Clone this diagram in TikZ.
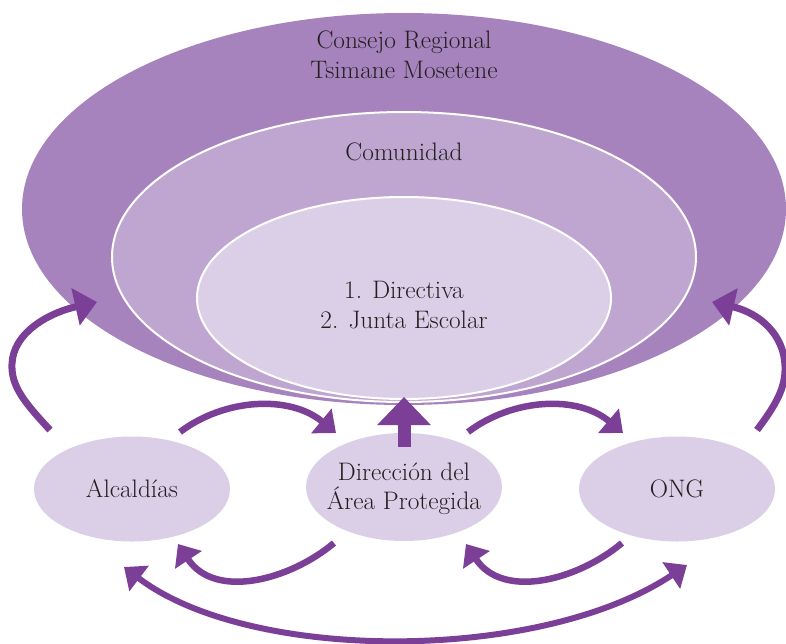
\documentclass[tikz,border=0pt]{standalone}
\usetikzlibrary{arrows.meta,shapes.geometric}
\definecolor{outerc}{HTML}{A783BD}
\definecolor{midc}{HTML}{BEA6D0}
\definecolor{innerc}{HTML}{DBCFE7}
\definecolor{arrowc}{HTML}{7B3F98}
\definecolor{txt}{HTML}{231F20}
\begin{document}
\begin{tikzpicture}[x=1pt,y=-1pt,
  ring/.style={ellipse, inner sep=0pt, outer sep=0pt},
  actor/.style={ellipse, inner sep=0pt, fill=innerc, minimum width=196pt, minimum height=105pt},
  lbl/.style={font=\fontsize{25.3}{29.5}\selectfont, text=txt, align=center, inner sep=0pt},
  flow/.style={draw=arrowc, line width=6.5pt, -{Triangle[width=31pt,length=19pt]}},
  sideflow/.style={draw=arrowc, line width=7pt, -{Triangle[width=37pt,length=22pt]}},
  bothflow/.style={draw=arrowc, line width=6pt, {Triangle[width=31pt,length=19pt]}-{Triangle[width=31pt,length=19pt]}},
  upflow/.style={draw=arrowc, line width=13pt, -{Triangle[width=52pt,length=28pt]}}
]
\path[use as bounding box] (0,0) rectangle (786,643);

% nested circles of the organisation
\node[ring, fill=outerc, minimum width=764pt, minimum height=392pt] (consejo) at (404,209) {};
\node[ring, fill=midc, draw=white, line width=2pt, minimum width=584pt, minimum height=290pt] (comunidad) at (404,257) {};
\node[ring, fill=innerc, draw=white, line width=2pt, minimum width=414pt, minimum height=202pt] (escuela) at (404,298) {};

\node[lbl] (tconsejo) at (404,55) {Consejo Regional\\Tsimane Mosetene};
\node[lbl] (tcomunidad) at (404,152) {Comunidad};
\node[lbl] (tescuela) at (404,305) {1. Directiva\\2. Junta Escolar};

% outside actors
\node[actor] (alc) at (132,489) {};
\node[actor, minimum height=108pt] (dap) at (404,487) {};
\node[actor] (ong) at (677,489) {};
\node[lbl] (talc) at (132,489) {Alcald\'{\i}as};
\node[lbl] (tdap) at (404,489) {Direcci\'on del\\\'Area Protegida};
\node[lbl] (tong) at (677,489) {ONG};

% connector ends
\coordinate (alcUp) at (50,430);
\coordinate (consejoL) at (97,302);
\coordinate (ongUp) at (757,430);
\coordinate (consejoR) at (712,302);
\coordinate (alcTop) at (180,432);
\coordinate (dapTopL) at (336,433);
\coordinate (dapTopR) at (468,432);
\coordinate (ongTop) at (623,433);
\coordinate (dapBase) at (404,447);
\coordinate (escuelaBot) at (404,397);
\coordinate (dapBotL) at (334,543);
\coordinate (alcBot) at (178,544);
\coordinate (ongBotL) at (622,543);
\coordinate (dapBotR) at (466,544);
\coordinate (alcFar) at (124,567);
\coordinate (ongFar) at (687,565);

% arrows
\draw[sideflow] (alcUp) .. controls (24,402) and (11,386) .. (12,364)
  .. controls (13,333) and (48,313) .. (consejoL);
\draw[sideflow] (ongUp) .. controls (775,406) and (786,388) .. (785,366)
  .. controls (784,335) and (760,313) .. (consejoR);
\draw[flow] (alcTop) .. controls (225,398) and (290,395) .. (dapTopL);
\draw[flow] (dapTopR) .. controls (513,398) and (578,395) .. (ongTop);
\draw[upflow] (dapBase) -- (escuelaBot);
\draw[flow] (dapBotL) .. controls (290,580) and (215,600) .. (alcBot);
\draw[flow] (ongBotL) .. controls (578,580) and (503,600) .. (dapBotR);
\draw[bothflow] (alcFar) .. controls (250,663) and (540,663) .. (ongFar);
\end{tikzpicture}
\end{document}
